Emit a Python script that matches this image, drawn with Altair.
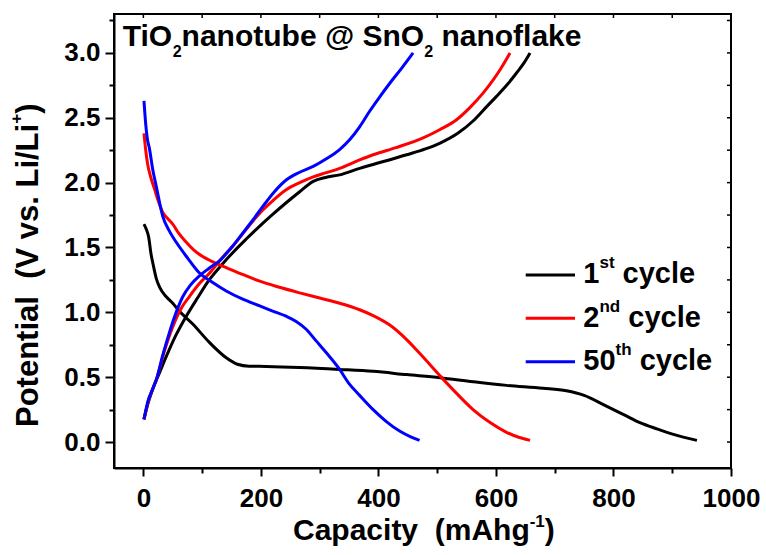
import altair as alt
import pandas as pd

# ---------------- data ----------------
cycles = ["1st", "2nd", "50th"]
colors = ["#000000", "#FF0000", "#0000FF"]

cap_1_dis = [1, 5, 9, 13, 17, 22, 28, 39, 50, 61, 84, 112, 141, 160, 180, 209, 266, 334, 391, 448, 505, 561, 618, 680, 720, 750, 788, 820, 845, 875, 902, 942]
v_1_dis = [1.68, 1.64, 1.58, 1.45, 1.36, 1.26, 1.19, 1.12, 1.07, 1.01, 0.91, 0.77, 0.65, 0.60, 0.585, 0.583, 0.575, 0.56, 0.545, 0.52, 0.496, 0.465, 0.437, 0.415, 0.395, 0.36, 0.277, 0.205, 0.149, 0.10, 0.059, 0.013]

cap_1_chg = [1, 8, 16, 27, 39, 55, 73, 92, 112, 132, 152, 175, 198, 220, 243, 266, 289, 310, 334, 368, 391, 448, 480, 505, 535, 561, 585, 601, 620, 635, 648, 658]
v_1_chg = [0.175, 0.30, 0.41, 0.53, 0.66, 0.82, 0.97, 1.11, 1.25, 1.36, 1.46, 1.565, 1.665, 1.755, 1.845, 1.93, 2.01, 2.04, 2.06, 2.11, 2.14, 2.215, 2.26, 2.305, 2.38, 2.475, 2.59, 2.665, 2.76, 2.845, 2.925, 3.0]

cap_2_dis = [1, 4, 7, 12, 19, 26, 33, 42, 50, 60, 73, 86, 101, 120, 141, 170, 198, 230, 266, 300, 334, 368, 391, 420, 448, 476, 505, 533, 561, 590, 618, 640, 658]
v_2_dis = [2.38, 2.25, 2.15, 2.05, 1.95, 1.85, 1.77, 1.72, 1.68, 1.61, 1.54, 1.48, 1.43, 1.385, 1.345, 1.29, 1.24, 1.195, 1.15, 1.11, 1.07, 1.02, 0.975, 0.90, 0.79, 0.655, 0.51, 0.375, 0.25, 0.15, 0.075, 0.035, 0.013]

cap_2_chg = [1, 8, 15, 22, 35, 50, 63, 78, 95, 112, 132, 152, 175, 198, 220, 243, 266, 289, 310, 334, 368, 391, 430, 476, 505, 533, 556, 578, 595, 607, 624]
v_2_chg = [0.175, 0.31, 0.40, 0.48, 0.69, 0.89, 1.02, 1.12, 1.22, 1.30, 1.41, 1.51, 1.64, 1.765, 1.86, 1.945, 2.00, 2.045, 2.075, 2.11, 2.175, 2.215, 2.27, 2.345, 2.41, 2.485, 2.58, 2.69, 2.79, 2.87, 3.0]

cap_50_dis = [1, 4, 7, 10, 16, 22, 33, 45, 56, 75, 95, 118, 141, 170, 198, 220, 243, 260, 277, 294, 311, 334, 350, 368, 391, 413, 436, 455, 470]
v_50_dis = [2.63, 2.45, 2.33, 2.27, 2.10, 1.97, 1.74, 1.62, 1.54, 1.42, 1.305, 1.23, 1.165, 1.10, 1.05, 1.01, 0.97, 0.93, 0.87, 0.78, 0.69, 0.56, 0.45, 0.36, 0.25, 0.16, 0.085, 0.04, 0.013]

cap_50_chg = [1, 8, 15, 22, 33, 44, 55, 67, 80, 95, 112, 129, 150, 169, 186, 203, 223, 243, 266, 289, 310, 334, 351, 368, 385, 402, 420, 440, 459]
v_50_chg = [0.175, 0.32, 0.40, 0.48, 0.67, 0.84, 0.99, 1.12, 1.21, 1.28, 1.34, 1.395, 1.50, 1.61, 1.71, 1.815, 1.93, 2.02, 2.08, 2.125, 2.18, 2.255, 2.33, 2.43, 2.55, 2.66, 2.77, 2.885, 3.0]

x_tick_values = [0, 100, 200, 300, 400, 500, 600, 700, 800, 900, 1000]
y_tick_values = [0.0, 0.25, 0.5, 0.75, 1.0, 1.25, 1.5, 1.75, 2.0, 2.25, 2.5, 2.75, 3.0, 3.25]

# ---------------- build table ----------------
rows = []
series_list = [
    ("1st", "dis", cap_1_dis, v_1_dis), ("1st", "chg", cap_1_chg, v_1_chg),
    ("2nd", "dis", cap_2_dis, v_2_dis), ("2nd", "chg", cap_2_chg, v_2_chg),
    ("50th", "dis", cap_50_dis, v_50_dis), ("50th", "chg", cap_50_chg, v_50_chg),
]
for cyc, br, cs, vs in series_list:
    for i, (c, v) in enumerate(zip(cs, vs)):
        rows.append({"cap": c, "volt": v, "cycle": cyc, "series": cyc + "_" + br, "idx": i})
df = pd.DataFrame(rows)

FONT = "Liberation Sans"
W, H = 617, 454

xs = alt.Scale(domain=[-50, 1000], nice=False, zero=False)
ys = alt.Scale(domain=[-0.2, 3.3], nice=False, zero=False)

x_axis = alt.Axis(
    values=x_tick_values, format="d",
    labelExpr="datum.value % 200 === 0 ? datum.label : ''",
    tickSize={"condition": {"test": "datum.value % 200 === 0", "value": 8}, "value": 5},
    tickWidth=2, tickColor="black", domainColor="black", domainWidth=2,
    labelFont=FONT, labelFontSize=26, labelFontWeight="bold", labelColor="black",
    labelPadding=9, title=None, grid=False, labelOverlap=False, labelFlush=False,
)
y_axis = alt.Axis(
    values=y_tick_values, format=".1f",
    labelExpr="round(datum.value * 4) % 2 === 0 ? datum.label : ''",
    tickSize={"condition": {"test": "round(datum.value * 4) % 2 === 0", "value": 9}, "value": 5},
    tickWidth=2, tickColor="black", domainColor="black", domainWidth=2,
    labelFont=FONT, labelFontSize=26, labelFontWeight="bold", labelColor="black",
    labelPadding=5, title=None, grid=False, labelOverlap=False, labelFlush=False,
)

X = alt.X("cap:Q", scale=xs, axis=x_axis)
Y = alt.Y("volt:Q", scale=ys, axis=y_axis)

lines = alt.Chart(df).mark_line(strokeWidth=3, interpolate="monotone").encode(
    x=X, y=Y,
    color=alt.Color("cycle:N", scale=alt.Scale(domain=cycles, range=colors), legend=None),
    detail="series:N",
    order="idx:Q",
)

# inward ticks on top and right frame
top_ticks = alt.Chart(pd.DataFrame({"cap": x_tick_values[:-1]})).mark_rule(
    color="black", strokeWidth=1.5).encode(x=X, y=alt.value(0), y2=alt.value(4))
right_ticks = alt.Chart(pd.DataFrame({"volt": y_tick_values})).mark_rule(
    color="black", strokeWidth=1.5).encode(y=Y, x=alt.value(W), x2=alt.value(W - 4))

# ---------------- rich text helpers ----------------
CW = {' ': 278, '\u00a0': 278, '@': 975, '(': 333, ')': 333, '+': 584, '-': 333, '.': 278, '/': 278,
      'A': 722, 'C': 722, 'L': 611, 'O': 778, 'P': 667, 'S': 667, 'T': 611, 'V': 667,
      'a': 556, 'b': 611, 'c': 556, 'd': 611, 'e': 556, 'f': 333, 'g': 611, 'h': 611, 'i': 278,
      'k': 556, 'l': 278, 'm': 889, 'n': 611, 'o': 611, 'p': 611, 'r': 389, 's': 556, 't': 333,
      'u': 611, 'v': 556, 'y': 556}
for d in "0123456789":
    CW[d] = 556


def tw(s, size):
    return sum(CW.get(ch, 556) for ch in s) / 1000.0 * size


one = pd.DataFrame({"k": [0]})
NB = "\u00a0"


def rich(x0, y0, parts, angle=0):
    layers = []
    cum = 0.0
    for text, size, shift in parts:
        # leading blanks are advanced manually (they get trimmed when rendered)
        while text and text[0] in (" ", NB):
            cum += tw(text[0], size)
            text = text[1:]
        if angle == 0:
            px, py = x0 + cum, y0 - shift
        else:
            px, py = x0 - shift, y0 - cum
        kw = dict(text=text, font=FONT, fontSize=size, fontWeight="bold", color="black",
                  align="left", baseline="alphabetic")
        if angle:
            kw["angle"] = angle
        layers.append(alt.Chart(one).mark_text(**kw).encode(x=alt.value(px), y=alt.value(py)))
        cum += tw(text, size)
    return layers


texts = []
# in-plot title
texts += rich(8.7, 32, [("TiO", 30, 0), ("2", 16, -11), ("nanotube" + NB + "@" + NB + "SnO", 30, 0),
                         ("2", 16, -11), (NB + "nanoflake", 30, 0)])
# legend
leg_sup = ["st", "nd", "th"]
leg_num = ["1", "2", "50"]
leg_line_y = [261, 304.3, 347.7]
leg_text_y = [269.3, 312.7, 356]
legend_layers = []
for i in range(3):
    legend_layers.append(alt.Chart(one).mark_rule(color=colors[i], strokeWidth=3).encode(
        x=alt.value(411.7), x2=alt.value(461), y=alt.value(leg_line_y[i])))
    texts += rich(469.3, leg_text_y[i], [(leg_num[i], 29, 0), (leg_sup[i], 17, 15), (NB + "cycle", 29, 0)])
# axis titles
texts += rich(179, 526, [("Capacity" + NB + NB + "(mAhg", 30, 0), ("-1", 17, 13), (")", 30, 0)])
texts += rich(-76, 413, [("Potential" + NB + NB + "(V" + NB + "vs." + NB + "Li/Li", 31, 0), ("+", 17, 16), (")", 31, 0)], angle=270)

chart = alt.layer(lines, top_ticks, right_ticks, *legend_layers, *texts).properties(
    width=W, height=H,
    padding={"left": 114, "top": 14, "right": 35, "bottom": 87},
    autosize=alt.AutoSizeParams(type="none"),
    background="white",
).configure_view(stroke="black", strokeWidth=2)

chart.save("out.html", embed_options={"renderer": "svg", "actions": False})
